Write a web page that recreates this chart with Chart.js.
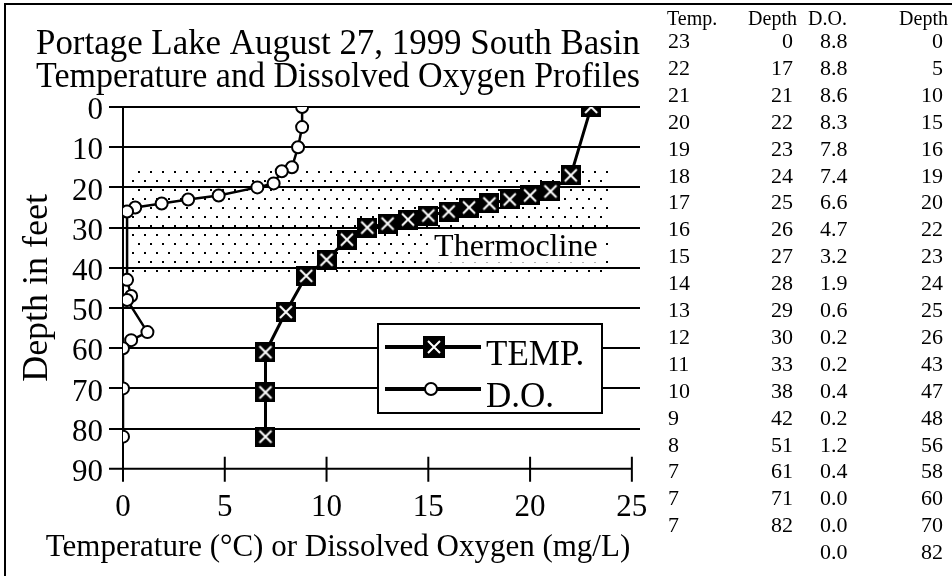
<!DOCTYPE html>
<html lang="en">
<head>
<meta charset="UTF-8">
<title>Portage Lake August 27, 1999 South Basin</title>
<script src="https://cdn.jsdelivr.net/npm/chart.js"></script>
<style>
    html, body { margin: 0; padding: 0; background: #fff; }
    body { width: 952px; height: 576px; position: relative; overflow: hidden;
           font-family: "Liberation Serif", "DejaVu Serif", serif; color: #000; }
    .frame { position: absolute; left: 4px; top: 3px; right: -4px; bottom: -4px;
             border-left: 2px solid #000; border-top: 2px solid #000; }
    .chart-box { position: absolute; left: 0; top: 0; width: 670px; height: 576px; }
    #dataTable div { position: absolute; white-space: nowrap; line-height: 24px; height: 24px; }
    #dataTable .hd { font-size: 20px; }
    #dataTable .val { font-size: 22px; }
</style>
</head>
<body>
<div class="frame"></div>
<div class="chart-box"><canvas id="profileChart" width="670" height="576"></canvas></div>
<div id="dataTable"></div>

<script>
// temperature profile (deg C) and the depths it was taken at (ft)
const tempValues = [23, 22, 21, 20, 19, 18, 17, 16, 15, 14, 13, 12, 11, 10, 9, 8, 7, 7, 7];
const tempDepths = [0, 17, 21, 22, 23, 24, 25, 26, 27, 28, 29, 30, 33, 38, 42, 51, 61, 71, 82];
// dissolved oxygen profile (mg/L) and depths (ft)
const doValues = [8.8, 8.8, 8.6, 8.3, 7.8, 7.4, 6.6, 4.7, 3.2, 1.9, 0.6, 0.2, 0.2, 0.4, 0.2, 1.2, 0.4, 0.0, 0.0, 0.0];
const doDepths = [0, 5, 10, 15, 16, 19, 20, 22, 23, 24, 25, 26, 43, 47, 48, 56, 58, 60, 70, 82];
// axis ticks
const xTicks = [0, 5, 10, 15, 20, 25];
const depthTicks = [0, 10, 20, 30, 40, 50, 60, 70, 80, 90];
// shaded thermocline band (ft)
const thermocline = [15.5, 42];
const tableHeaders = ['Temp.', 'Depth', 'D.O.', 'Depth'];

const FONT = '"Liberation Serif", "Times New Roman", serif';

// black square with a white X, like the old spreadsheet marker
function makeTempMarker(size) {
    const c = document.createElement('canvas');
    c.width = size; c.height = size;
    const g = c.getContext('2d');
    g.fillStyle = '#000';
    g.fillRect(0, 0, size, size);
    g.strokeStyle = '#fff';
    g.lineWidth = 2;
    const m = Math.round(size * 0.22);
    g.beginPath();
    g.moveTo(m, m); g.lineTo(size - m, size - m);
    g.moveTo(size - m, m); g.lineTo(m, size - m);
    g.stroke();
    return c;
}
const tempMarker = makeTempMarker(20);
const tempLegendMarker = makeTempMarker(22);

function makeDots() {
    const c = document.createElement('canvas');
    c.width = 12; c.height = 18;
    const g = c.getContext('2d');
    g.fillStyle = '#000';
    g.fillRect(0, 0, 2, 2);
    g.fillRect(6, 9, 2, 2);
    return c;
}

// table on the right, built from the same arrays
(function () {
    const box = document.getElementById('dataTable');
    const add = (txt, cls, top, left, right) => {
        const d = document.createElement('div');
        d.className = cls;
        d.textContent = txt;
        d.style.top = (top - 12) + 'px';
        if (left != null) d.style.left = left + 'px';
        else { d.style.left = (right - 80) + 'px'; d.style.width = '80px'; d.style.textAlign = 'right'; }
        box.appendChild(d);
    };
    add(tableHeaders[0], 'hd', 18, 667, null);
    add(tableHeaders[1], 'hd', 18, null, 797);
    add(tableHeaders[2], 'hd', 18, 808, null);
    add(tableHeaders[3], 'hd', 18, null, 948);
    const rowH = 26.9;
    for (let i = 0; i < doValues.length; i++) {
        const y = 41 + i * rowH;
        if (i < tempValues.length) {
            add(String(tempValues[i]), 'val', y, 668, null);
            add(String(tempDepths[i]), 'val', y, null, 793);
        }
        add(doValues[i].toFixed(1), 'val', y, 820, null);
        add(String(doDepths[i]), 'val', y, null, 943);
    }
})();

const extras = {
    id: 'profileExtras',
    beforeDraw(chart) {
        const { ctx, scales: { x, y } } = chart;
        const x0 = x.getPixelForValue(0.25), x1 = x.getPixelForValue(24);
        const y0 = y.getPixelForValue(thermocline[0]), y1 = y.getPixelForValue(thermocline[1]);
        ctx.save();
        ctx.fillStyle = ctx.createPattern(makeDots(), 'repeat');
        ctx.fillRect(x0, y0, x1 - x0, y1 - y0);
        ctx.restore();
    },
    beforeDatasetsDraw(chart) {
        const { ctx, scales: { x, y } } = chart;
        ctx.save();
        // label box for the band
        ctx.font = '32px ' + FONT;
        const cx = x.getPixelForValue(19.3), cy = y.getPixelForValue(35);
        const w = ctx.measureText('Thermocline').width;
        ctx.fillStyle = '#fff';
        ctx.fillRect(cx - w / 2 - 5, cy - 15, w + 10, 30);
        ctx.fillStyle = '#000';
        ctx.textAlign = 'center';
        ctx.textBaseline = 'middle';
        ctx.fillText('Thermocline', cx, cy);
        // bottom axis with crossing ticks
        const yb = y.getPixelForValue(90);
        ctx.strokeStyle = '#000';
        ctx.lineWidth = 2;
        ctx.beginPath();
        ctx.moveTo(x.left - 14, yb);
        ctx.lineTo(x.getPixelForValue(25), yb);
        x.ticks.forEach(t => {
            const px = x.getPixelForValue(t.value);
            ctx.moveTo(px, t.value === 0 ? yb : yb - 12);
            ctx.lineTo(px, yb + 13);
        });
        ctx.stroke();
        ctx.restore();
    },
    afterDatasetsDraw(chart) {
        const { ctx } = chart;
        const bx = 378, by = 324, bw = 224, bh = 89;
        ctx.save();
        ctx.fillStyle = '#fff';
        ctx.fillRect(bx, by, bw, bh);
        ctx.strokeStyle = '#000';
        ctx.lineWidth = 2;
        ctx.strokeRect(bx, by, bw, bh);
        chart.data.datasets.forEach((ds, i) => {
            const ly = by + 23 + i * 42;
            ctx.lineWidth = 4;
            ctx.beginPath();
            ctx.moveTo(bx + 7, ly);
            ctx.lineTo(bx + 103, ly);
            ctx.stroke();
            if (i === 0) {
                ctx.drawImage(tempLegendMarker, bx + 56 - 11, ly - 11);
            } else {
                ctx.beginPath();
                ctx.arc(bx + 53, ly, 6, 0, Math.PI * 2);
                ctx.fillStyle = '#fff';
                ctx.fill();
                ctx.lineWidth = 2;
                ctx.stroke();
            }
            ctx.fillStyle = '#000';
            ctx.font = '35px ' + FONT;
            ctx.textBaseline = 'alphabetic';
            ctx.textAlign = 'left';
            ctx.fillText(ds.label, bx + 108, ly + 18);
        });
        ctx.restore();
    }
};

new Chart(document.getElementById('profileChart'), {
    type: 'scatter',
    data: {
        datasets: [
            {
                label: 'TEMP.',
                data: tempValues.map((v, i) => ({ x: v, y: tempDepths[i] })),
                showLine: true,
                borderColor: '#000',
                borderWidth: 3,
                pointStyle: tempMarker,
                pointRadius: 10
            },
            {
                label: 'D.O.',
                data: doValues.map((v, i) => ({ x: v, y: doDepths[i] })),
                showLine: true,
                borderColor: '#000',
                borderWidth: 2.5,
                pointStyle: 'circle',
                pointRadius: 6,
                pointBackgroundColor: '#fff',
                pointBorderColor: '#000',
                pointBorderWidth: 2
            }
        ]
    },
    options: {
        responsive: false,
        animation: false,
        layout: { padding: { left: 36, right: 30, top: 0, bottom: 0 } },
        plugins: {
            legend: { display: false },
            tooltip: { enabled: false },
            title: {
                display: true,
                text: ['Portage Lake August 27, 1999 South Basin', 'Temperature and Dissolved Oxygen Profiles'],
                color: '#000',
                font: { family: FONT, size: 35, weight: 'normal', lineHeight: 0.95 },
                padding: { top: 28, bottom: 12.5 }
            },
            subtitle: {
                display: true,
                position: 'bottom',
                text: 'Temperature (°C) or Dissolved Oxygen (mg/L)',
                color: '#000',
                font: { family: FONT, size: 31, weight: 'normal', lineHeight: 1.2 },
                padding: { top: 4, bottom: 10 }
            }
        },
        scales: {
            x: {
                type: 'linear',
                min: 0,
                max: 25.4,
                afterBuildTicks: s => { s.ticks = xTicks.map(v => ({ value: v })); },
                afterFit: s => { s.height = 56; },
                grid: { display: false, drawTicks: false },
                border: { display: false },
                ticks: { color: '#000', padding: 20, font: { family: FONT, size: 31 } }
            },
            y: {
                type: 'linear',
                min: 0,
                max: 90,
                reverse: true,
                afterBuildTicks: s => { s.ticks = depthTicks.map(v => ({ value: v })); },
                afterFit: s => { s.width = 87; },
                grid: {
                    color: c => (c.tick && c.tick.value === 90) ? 'rgba(0,0,0,0)' : '#000',
                    lineWidth: 2,
                    tickLength: 14
                },
                border: { display: true, color: '#000', width: 2 },
                ticks: { color: '#000', padding: 6, labelOffset: 4, font: { family: FONT, size: 31 } },
                title: {
                    display: true,
                    text: 'Depth in feet',
                    color: '#000',
                    font: { family: FONT, size: 36 },
                    padding: { top: -19.6, bottom: 0 }
                }
            }
        }
    },
    plugins: [extras]
});
</script>
</body>
</html>
